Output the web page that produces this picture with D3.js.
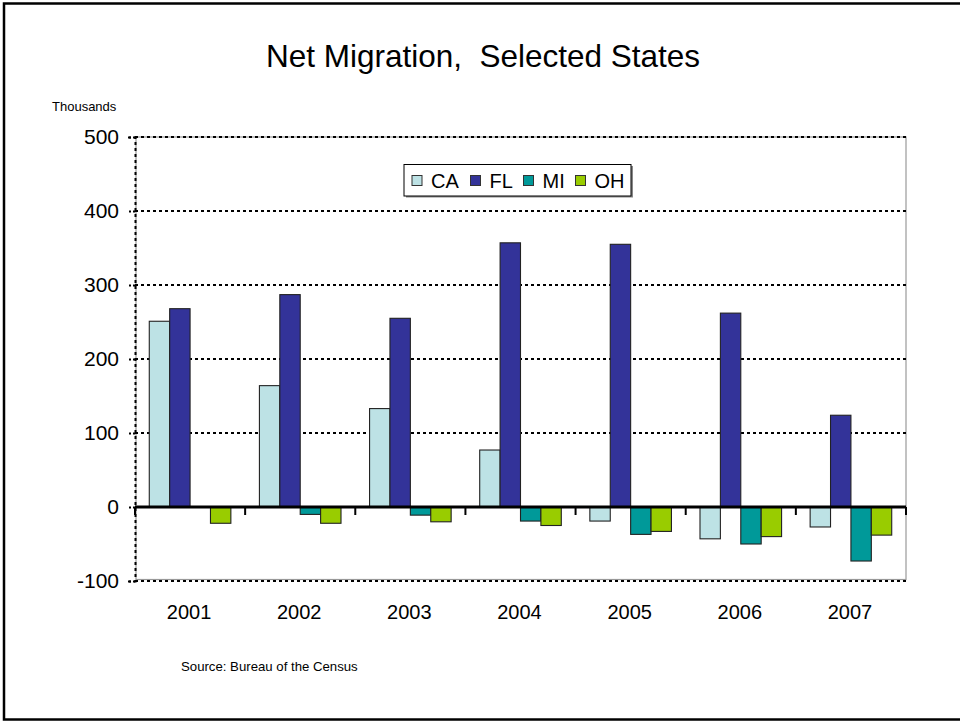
<!DOCTYPE html>
<html>
<head>
<meta charset="utf-8">
<script src="https://cdn.jsdelivr.net/npm/d3@7/dist/d3.min.js"></script>
<style>
  html, body { margin: 0; padding: 0; background: #fff; }
  svg { display: block; font-family: Arial, "Liberation Sans", Helvetica, sans-serif; }
</style>
</head>
<body>
<svg id="chart" width="960" height="721"></svg>
<script>
// Net migration by year, thousands of people
const years = ["2001", "2002", "2003", "2004", "2005", "2006", "2007"];
const states = ["CA", "FL", "MI", "OH"];
const caValues = [251, 164, 133, 77, -19, -43, -27];
const flValues = [268, 287, 255, 357, 355, 262, 124];
const miValues = [0, -10, -11, -19, -37, -50, -73];
const ohValues = [-22, -22, -20, -25, -33, -40, -38];
const yTicks = [-100, 0, 100, 200, 300, 400, 500];
const stateColors = ["#BDE2E5", "#333399", "#009999", "#99CC00"];

const seriesValues = [caValues, flValues, miValues, ohValues];
const rows = years.map((yr, i) => ({
  year: yr,
  values: states.map((s, k) => ({ state: s, value: seriesValues[k][i] }))
}));

const svg = d3.select("#chart");

// outer frame
svg.append("rect")
  .attr("x", 4).attr("y", 3.5).attr("width", 980).attr("height", 716)
  .attr("fill", "none").attr("stroke", "#000").attr("stroke-width", 2.5);

const plot = { left: 135, right: 906, top: 137, bottom: 581 };

const x0 = d3.scaleBand().domain(years).range([plot.left, plot.right]).padding(0);
const x1 = d3.scaleBand().domain(states).range([0, x0.bandwidth()])
  .paddingInner(0).paddingOuter(0.7);
const color = d3.scaleOrdinal().domain(states).range(stateColors);
const y = d3.scaleLinear().domain([-100, 500]).range([plot.bottom, plot.top]);

// plot area border
svg.append("rect")
  .attr("x", plot.left + 1).attr("y", plot.top)
  .attr("width", plot.right - plot.left - 1).attr("height", plot.bottom - plot.top - 1.5)
  .attr("fill", "none").attr("stroke", "#999").attr("stroke-width", 1.2);

// dotted gridlines
svg.append("g").selectAll("line")
  .data(yTicks.filter(t => t !== 0))
  .join("line")
  .attr("x1", plot.left).attr("x2", plot.right)
  .attr("y1", d => y(d)).attr("y2", d => y(d))
  .attr("stroke", "#000").attr("stroke-width", 2)
  .attr("stroke-dasharray", "3,3");

// y axis
const yAxis = d3.axisLeft(y).tickValues(yTicks).tickSize(7).tickPadding(9)
  .tickFormat(d => String(d));
const yg = svg.append("g").attr("transform", `translate(${plot.left},0)`).call(yAxis);
yg.select(".domain").attr("stroke", "#000").attr("stroke-width", 2)
  .attr("stroke-dasharray", "3,3");
yg.selectAll(".tick line").attr("stroke", "#000").attr("stroke-width", 2)
  .attr("stroke-dasharray", "2,2");
yg.selectAll(".tick text").attr("font-size", 21).attr("fill", "#000")
  .attr("font-family", "Arial, 'Liberation Sans', sans-serif");

// bars
const groups = svg.append("g").selectAll("g")
  .data(rows)
  .join("g")
  .attr("transform", d => `translate(${x0(d.year)},0)`);

groups.selectAll("rect")
  .data(d => d.values)
  .join("rect")
  .attr("x", d => x1(d.state))
  .attr("width", x1.bandwidth())
  .attr("y", d => y(Math.max(0, d.value)))
  .attr("height", d => Math.abs(y(d.value) - y(0)))
  .attr("fill", d => color(d.state))
  .attr("stroke", "#222").attr("stroke-width", 1.1);

// zero axis with category ticks
svg.append("line")
  .attr("x1", plot.left).attr("x2", plot.right)
  .attr("y1", y(0)).attr("y2", y(0))
  .attr("stroke", "#000").attr("stroke-width", 3);
svg.append("g").selectAll("line")
  .data(years.concat(["end"]))
  .join("line")
  .attr("x1", (d, i) => i < years.length ? x0(d) : plot.right)
  .attr("x2", (d, i) => i < years.length ? x0(d) : plot.right)
  .attr("y1", y(0)).attr("y2", y(0) + 8)
  .attr("stroke", "#000").attr("stroke-width", 2);

// year labels
svg.append("g").selectAll("text")
  .data(years)
  .join("text")
  .attr("x", d => x0(d) + x0.bandwidth() / 2 - 1)
  .attr("y", 619)
  .attr("text-anchor", "middle")
  .attr("font-size", 20)
  .attr("fill", "#000")
  .text(d => d);

// legend
const legend = svg.append("g");
legend.append("rect")
  .attr("x", 406).attr("y", 166).attr("width", 227).attr("height", 31.5)
  .attr("fill", "#888");
legend.append("rect")
  .attr("x", 404).attr("y", 164.5).attr("width", 227).attr("height", 31.5)
  .attr("fill", "#fff").attr("stroke", "#000").attr("stroke-width", 1);
const legendX = [412, 470.5, 523.5, 575.5];
const items = legend.selectAll("g.item")
  .data(states)
  .join("g")
  .attr("class", "item")
  .attr("transform", (d, i) => `translate(${legendX[i]},175.5)`);
items.append("rect")
  .attr("width", 10).attr("height", 10)
  .attr("fill", d => color(d))
  .attr("stroke", "#333").attr("stroke-width", 1);
items.append("text")
  .attr("x", 19).attr("y", 12)
  .attr("font-size", 20)
  .attr("fill", "#000")
  .text(d => d);

// title and notes
svg.append("text")
  .attr("x", 483).attr("y", 67)
  .attr("text-anchor", "middle")
  .attr("font-size", 31.5)
  .attr("fill", "#000")
  .attr("xml:space", "preserve")
  .style("white-space", "pre")
  .text("Net Migration,  Selected States");

svg.append("text")
  .attr("x", 52).attr("y", 111)
  .attr("font-size", 13)
  .attr("fill", "#000")
  .text("Thousands");

svg.append("text")
  .attr("x", 181).attr("y", 671)
  .attr("font-size", 13.2)
  .attr("fill", "#000")
  .text("Source: Bureau of the Census");
</script>
</body>
</html>
